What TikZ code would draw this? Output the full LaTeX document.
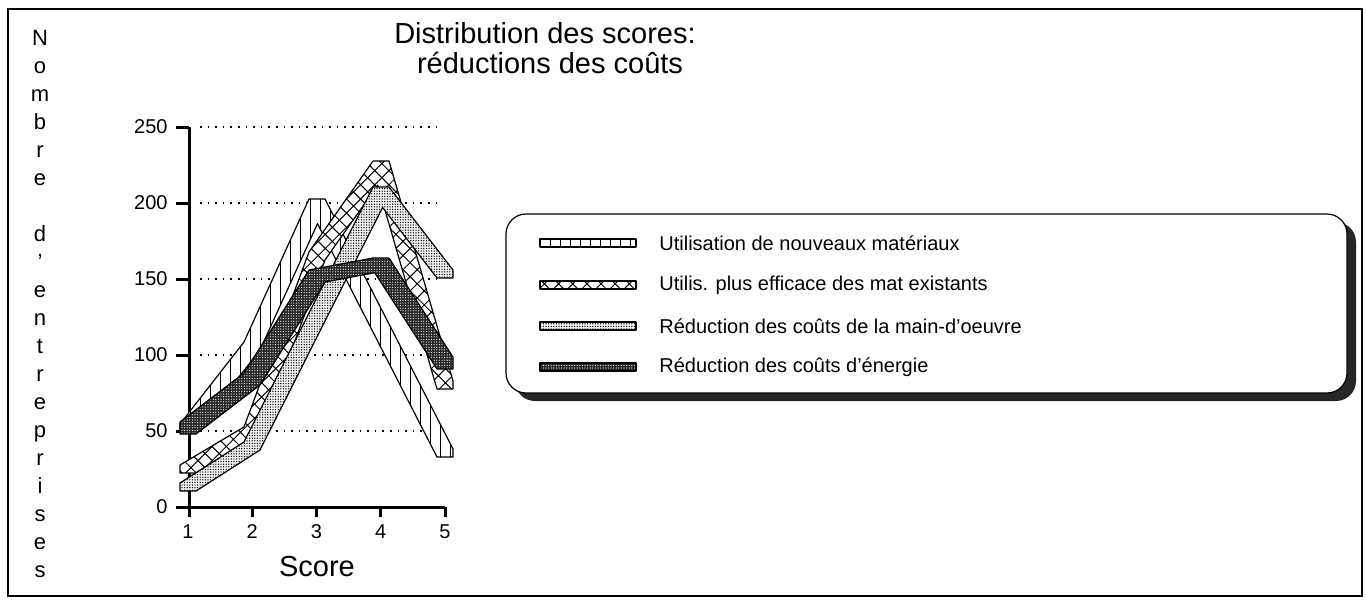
\documentclass[tikz,border=0pt]{standalone}
\usepackage{fontspec}
\setmainfont{Liberation Sans}
\usetikzlibrary{patterns.meta,shadows}

\begin{document}
\begin{tikzpicture}[
    x=0.5pt, y=-0.5pt,
    lab/.style={font=\fontsize{10}{12}\selectfont, inner sep=0pt},
    ylet/.style={font=\fontsize{11}{12}\selectfont, inner sep=0pt, anchor=base},
    ttl/.style={font=\fontsize{14.5}{17}\selectfont, inner sep=0pt},
    axis/.style={line width=1.5pt},
    grid/.style={line width=0.8pt, dash pattern=on 0.8pt off 3pt},
    band/.style={draw, line width=0.6pt, line join=round},
    bandA/.style={band, preaction={fill=white}, pattern={Lines[angle=90,distance=5pt,line width=0.5pt]}},
    bandB/.style={band, preaction={fill=white}, pattern={Hatch[angle=45,distance=5pt,line width=0.5pt]}},
    bandC/.style={band, preaction={fill=black!6}, pattern={Dots[radius=0.35pt,distance=1.3pt]}},
    bandD/.style={band, preaction={fill=black!85}, pattern={Dots[radius=0.3pt,distance=1.3pt]}, pattern color=white},
    swatch/.style={minimum width=48pt, minimum height=4pt, inner sep=0pt},
    legbox/.style={draw, line width=0.6pt, fill=white, rounded corners=10pt, minimum width=420.5pt, minimum height=89.5pt,
                   drop shadow={shadow xshift=4.5pt, shadow yshift=-4pt, fill=black!85, opacity=1}}
  ]
  \useasboundingbox (0,0) rectangle (1366,602);

  % Frame and title
  \draw[line width=1pt] (8,9) rectangle (1362,596);
  \node[ttl] (title1) at (545,33) {Distribution des scores:};
  \node[ttl] (title2) at (550,63) {réductions des coûts};

  % Vertical axis title, one letter per row
  \foreach \ch [count=\k from 0] in {N,o,m,b,r,e,{},d,',e,n,t,r,e,p,r,i,s,e,s}
    \node[ylet] (ylab\k) at (40,{45+28*\k}) {\ch};

  % Grid and axes
  \foreach \v in {1,...,5}
    \draw[grid] (200,{507-76*\v}) -- (440,{507-76*\v});
  \draw[axis] (189,127) -- (189,517);
  \draw[axis] (189,507) -- (445,507);
  \foreach \v in {0,...,5}
    \draw[axis] (176,{507-76*\v}) -- (189,{507-76*\v});
  \foreach \i in {2,...,5}
    \draw[axis] ({188+64.25*(\i-1)},507) -- ++(0,10);
  \foreach \v in {0,50,...,250}
    \node[lab, anchor=east] (y\v) at (168,{507-1.52*\v}) {\v};
  \foreach \i in {1,...,5}
    \node[lab] (x\i) at ({188+64.25*(\i-1)},532) {\i};
  \node[ttl] (score) at (317,567) {Score};

  % Ribbons, back to front
  \draw[bandA] (180,424) -- (244,342) -- (309,199) -- (325,199) -- (389,324) -- (453,449) -- (453,457)
    -- (437,457) -- (373,332) -- (317.5,223.6) -- (260,350) -- (196,432) -- (180,432) -- cycle;
  \draw[bandB] (180,465) -- (244,427) -- (309,252) -- (373,161) -- (389,161) -- (453,381) -- (453,389)
    -- (437,389) -- (377.7,185.1) -- (325,260) -- (260,435) -- (196,473) -- (180,473) -- cycle;
  \draw[bandC] (180,483) -- (244,442) -- (309,313) -- (373,187) -- (389,187) -- (453,270) -- (453,278)
    -- (437,278) -- (382.6,207.5) -- (325,321) -- (260,450) -- (196,491) -- (180,491) -- cycle;
  \draw[bandD] (180,422) -- (244,373) -- (309,270) -- (373,258) -- (389,258) -- (453,357) -- (453,369)
    -- (437,369) -- (374.7,272.7) -- (325,282) -- (260,385) -- (196,434) -- (180,434) -- cycle;

  % Legend
  \node[legbox] (legend) at (926.5,303.5) {};
  \node[swatch, bandA] (swA) at (588,243) {};
  \node[swatch, bandB] (swB) at (588,285) {};
  \node[swatch, bandC] (swC) at (588,326) {};
  \node[swatch, bandD] (swD) at (588,367) {};
  \node[lab, anchor=west] (legA) at (659,243) {Utilisation de nouveaux matériaux};
  \node[lab, anchor=west] (legB) at (659,285) {Utilis. plus efficace des mat existants};
  \node[lab, anchor=west] (legC) at (659,326) {Réduction des coûts de la main-d'oeuvre};
  \node[lab, anchor=west] (legD) at (659,367) {Réduction des coûts d'énergie};

\end{tikzpicture}
\end{document}
